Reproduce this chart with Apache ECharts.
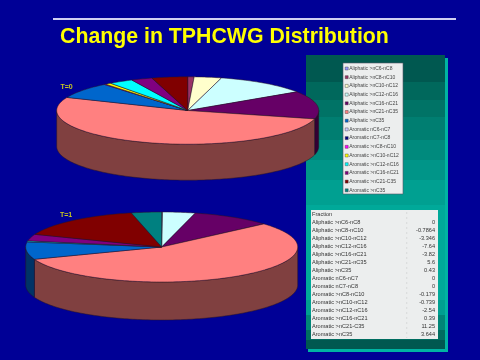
<!DOCTYPE html>
<html><head><meta charset="utf-8">
<style>html,body{margin:0;padding:0;background:#000096}#c{width:480px;height:360px}</style>
<script src="https://cdn.jsdelivr.net/npm/echarts@6/dist/echarts.min.js"></script>
</head><body><div id="c"></div>
<script>
const names = ['Aliphatic >nC6-nC8','Aliphatic >nC8-nC10','Aliphatic >nC10-nC12','Aliphatic >nC12-nC16','Aliphatic >nC16-nC21','Aliphatic >nC21-nC35','Aliphatic >nC35','Aromatic nC6-nC7','Aromatic nC7-nC8','Aromatic >nC8-nC10','Aromatic >nC10-nC12','Aromatic >nC12-nC16','Aromatic >nC16-nC21','Aromatic >nC21-C35','Aromatic >nC35'];
const colors = ['#9999FF','#993366','#FFFFCC','#CCFFFF','#660066','#FF8080','#0066CC','#CCCCFF','#000080','#FF00FF','#FFFF00','#00FFFF','#800080','#800000','#008080'];
const t0 = [0,0.79,3.35,11.5,13.3,52.2,7.7,0,0,0.18,0.74,3.0,2.6,4.4,0];
const t1 = [0,0,0.1,3.9,9.6,56,8.1,0,0,0,0,0.46,3.1,15.6,3.6];
const fractions = ['0','-0.7864','-3.346','-7.64','-3.82','5.6','0.43','0','0','-0.179','-0.739','-2.54','0.39','11.25','3.644'];
const title = 'Change in TPHCWG Distribution';
const pies = [
  {values:t0,label:'T=0',cx:187.7,cy:110.5,rx:131,ry:33.7,depth:36,lx:60.5,ly:87.5},
  {values:t1,label:'T=1',cx:161.7,cy:247,rx:136,ry:35,depth:38,lx:60,ly:215.5}
];
const bands = [[55,'#005850'],[82,'#00685c'],[100,'#007366'],[117,'#007e71'],[140,'#008a7d'],[160,'#009588'],[180,'#00a091'],[205,'#00a999'],[300,'#009f90'],[315,'#008577'],[330,'#006d60'],[340,'#005850']];
const FONT = '"Liberation Sans", Arial, sans-serif';

function shade(hex,k){
  const n=parseInt(hex.slice(1),16);
  return 'rgb('+[(n>>16)&255,(n>>8)&255,n&255].map(v=>Math.round(v*k)).join(',')+')';
}
function arc(p,a,b,dy){
  const pts=[], steps=Math.max(2,Math.ceil((b-a)/0.02));
  for(let i=0;i<=steps;i++){
    const t=a+(b-a)*i/steps;
    pts.push([p.cx+p.rx*Math.sin(t), p.cy-p.ry*Math.cos(t)+dy]);
  }
  return pts;
}
function renderSlice(seriesIdx){
  return function(params,api){
    const p=pies[api.value(0)], vals=p.values, total=vals.reduce((s,v)=>s+v,0);
    const v=api.value(1);
    if(!v) return null;
    let before=0; for(let i=0;i<seriesIdx;i++) before+=vals[i];
    const a=before/total*2*Math.PI, b=(before+v)/total*2*Math.PI;
    const children=[];
    const stroke={stroke:'#2a1420',lineWidth:0.5};
    const wa=Math.max(a,Math.PI/2), wb=Math.min(b,Math.PI*1.5);
    if(wb>wa){
      const top=arc(p,wa,wb,0), bottom=arc(p,wa,wb,p.depth).reverse();
      children.push({type:'polygon',shape:{points:top.concat(bottom)},
        style:Object.assign({fill:shade(colors[seriesIdx],0.5)},stroke),z2:1});
    }
    children.push({type:'polygon',shape:{points:[[p.cx,p.cy]].concat(arc(p,a,b,0))},
      style:Object.assign({fill:colors[seriesIdx]},stroke),z2:2});
    return {type:'group',children};
  };
}
const graphic=[];
graphic.push({type:'rect',shape:{x:308,y:58,width:140,height:294},style:{fill:'#00b3a3'},z:-10});
bands.forEach((b,i)=>{
  const end=i+1<bands.length?bands[i+1][0]:349;
  graphic.push({type:'rect',shape:{x:306,y:b[0],width:139,height:end-b[0]},style:{fill:b[1]},z:-9});
});
graphic.push({type:'line',shape:{x1:53,y1:19,x2:456,y2:19},style:{stroke:'#cfcff2',lineWidth:2},z:-8});
graphic.push({type:'text',x:60,y:26,scaleX:0.968,style:{text:title,fill:'#FFFF00',fontWeight:'bold',fontSize:22,fontFamily:FONT},z:-8});
pies.forEach(p=>graphic.push({type:'text',x:p.lx,y:p.ly-4,style:{text:p.label,fill:'#c8c820',fontWeight:'bold',fontSize:7,fontFamily:FONT},z:5}));
graphic.push({type:'rect',shape:{x:343,y:63,width:60,height:131},style:{fill:'#ECEEEE',stroke:'#556',lineWidth:0.6},z:1});
graphic.push({type:'rect',shape:{x:311,y:210,width:127,height:129},style:{fill:'#ECEEEE'},z:1});
graphic.push({type:'line',shape:{x1:406.7,y1:212,x2:406.7,y2:338},style:{stroke:'#c4c6c6',lineWidth:0.5,lineDash:[2,3]},z:1});
graphic.push({type:'text',x:312,y:211,style:{text:'Fraction',fill:'#333',fontSize:5.6,fontFamily:FONT},z:2});
names.forEach((n,i)=>{
  const y=219+i*8;
  graphic.push({type:'text',x:312,y:y,style:{text:n,fill:'#333',fontSize:5.6,fontFamily:FONT},z:2});
  graphic.push({type:'text',x:435,y:y,style:{text:fractions[i],fill:'#333',fontSize:5.6,fontFamily:FONT,align:'right'},z:2});
});
const chart=echarts.init(document.getElementById('c'),null,{renderer:'canvas'});
chart.setOption({
  backgroundColor:'#000096',
  animation:false,
  graphic:{elements:graphic},
  legend:{
    show:true,orient:'vertical',left:345,top:65.5,padding:0,
    itemWidth:3,itemHeight:3,itemGap:2.7,
    icon:'rect',
    data:names,
    selectedMode:false,
    textStyle:{fontSize:5,color:'#444',fontFamily:FONT,padding:[0,0,0,-4],lineHeight:6},
    itemStyle:{borderColor:'#333',borderWidth:0.4},
    z:6
  },
  series:names.map((n,i)=>({
    type:'custom',name:n,coordinateSystem:'none',
    itemStyle:{color:colors[i]},
    renderItem:renderSlice(i),
    silent:true,z:3,
    data:[[0,t0[i]],[1,t1[i]]]
  }))
});
</script></body></html>
